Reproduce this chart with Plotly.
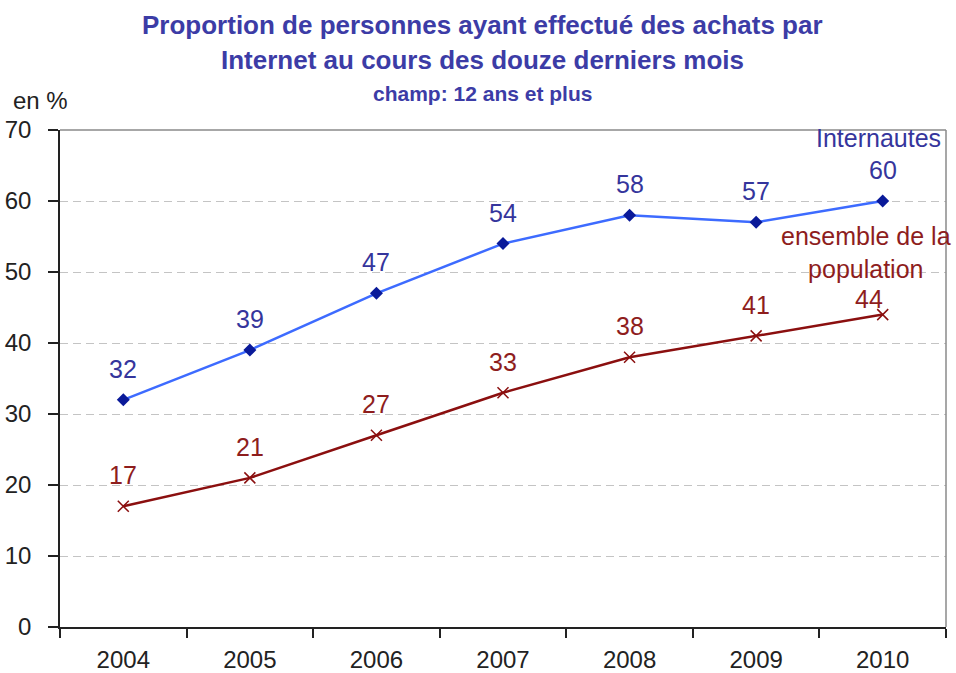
import plotly.graph_objects as go

years = ["2004", "2005", "2006", "2007", "2008", "2009", "2010"]
internautes = [32, 39, 47, 54, 58, 57, 60]
population = [17, 21, 27, 33, 38, 41, 44]
y_ticks = [0, 10, 20, 30, 40, 50, 60, 70]

FONT = "Liberation Sans, Arial, sans-serif"
TITLE_COLOR = "#3c3ca6"
BLUE_LABEL = "#35359c"
RED = "#8b0f0f"
RED_LABEL = "#8e1d1d"

fig = go.Figure()
fig.add_trace(go.Scatter(
    x=years, y=internautes, mode="lines+markers",
    line=dict(color="#3d6bff", width=2.5),
    marker=dict(symbol="diamond", size=10, color="#0a1a99"),
    cliponaxis=False, showlegend=False,
))
fig.add_trace(go.Scatter(
    x=years, y=population, mode="lines+markers",
    line=dict(color=RED, width=2.5),
    marker=dict(symbol="x-thin", size=11, line=dict(color=RED, width=1.5)),
    cliponaxis=False, showlegend=False,
))

# data labels (x given as category index)
for i, v in enumerate(internautes):
    fig.add_annotation(x=i, y=v, text=str(v), showarrow=False, yshift=31,
                       font=dict(size=25, color=BLUE_LABEL, family=FONT))
for i, v in enumerate(population):
    last = i == len(population) - 1
    fig.add_annotation(x=i, y=v, text=str(v), showarrow=False,
                       yshift=16 if last else 31, xshift=-14 if last else 0,
                       font=dict(size=25, color=RED_LABEL, family=FONT))

fig.update_layout(
    width=956, height=673,
    margin=dict(l=60, r=10, t=130, b=46),
    plot_bgcolor="white", paper_bgcolor="white",
    font=dict(family=FONT, color="#222222"),
    xaxis=dict(
        type="category", range=[-0.5, 6.5], tickson="boundaries",
        ticks="outside", ticklen=9, tickcolor="#222", tickwidth=1.5,
        ticklabelstandoff=10,
        showline=True, linecolor="#222", linewidth=1.5, automargin=False,
        showgrid=False, tickfont=dict(size=24, color="#222"),
    ),
    yaxis=dict(
        range=[0, 70], tickvals=y_ticks, ticks="outside", ticklen=10,
        tickcolor="#222", tickwidth=1.5, automargin=False,
        ticklabelstandoff=12,
        showline=True, linecolor="#222", linewidth=1.5,
        showgrid=True, gridcolor="#c4c4c4", griddash="8px,5px", gridwidth=1.2,
        zeroline=False, tickfont=dict(size=24, color="#222"),
    ),
)

# frame top / right
fig.add_shape(type="line", xref="paper", yref="paper", x0=0, x1=1, y0=1, y1=1,
              line=dict(color="#8a8a8a", width=1.5))
fig.add_shape(type="line", xref="paper", yref="paper", x0=1, x1=1, y0=0, y1=1,
              line=dict(color="#8a8a8a", width=1.5))

TITLE_X = 0.477
fig.add_annotation(text="<b>Proportion de personnes ayant effectué des achats par</b>",
                   xref="paper", yref="paper", x=TITLE_X, y=1, yshift=105, yanchor="middle",
                   showarrow=False, font=dict(size=26, color=TITLE_COLOR, family=FONT))
fig.add_annotation(text="<b>Internet au cours des douze derniers mois</b>",
                   xref="paper", yref="paper", x=TITLE_X, y=1, yshift=70, yanchor="middle",
                   showarrow=False, font=dict(size=26, color=TITLE_COLOR, family=FONT))
fig.add_annotation(text="<b>champ: 12 ans et plus</b>", xref="paper", yref="paper",
                   x=TITLE_X, y=1, yshift=37, yanchor="middle", showarrow=False,
                   font=dict(size=21, color=TITLE_COLOR, family=FONT))
fig.add_annotation(text="en %", xref="paper", yref="paper", x=-0.055, xanchor="left",
                   y=1, yshift=30, yanchor="middle", showarrow=False,
                   font=dict(size=24, color="#222", family=FONT))
fig.add_annotation(text="Internautes", xref="paper", yref="paper", x=0.9966, xanchor="right",
                   y=1, yshift=-8, yanchor="middle", showarrow=False,
                   font=dict(size=25, color=BLUE_LABEL, family=FONT))
fig.add_annotation(text="ensemble de la<br>population", x=5.87, y=52.7,
                   yanchor="middle", showarrow=False, align="center",
                   font=dict(size=25, color=RED_LABEL, family=FONT))

fig.write_html("out.html", config={"displayModeBar": False},
               post_script="document.body.style.margin='0';")
